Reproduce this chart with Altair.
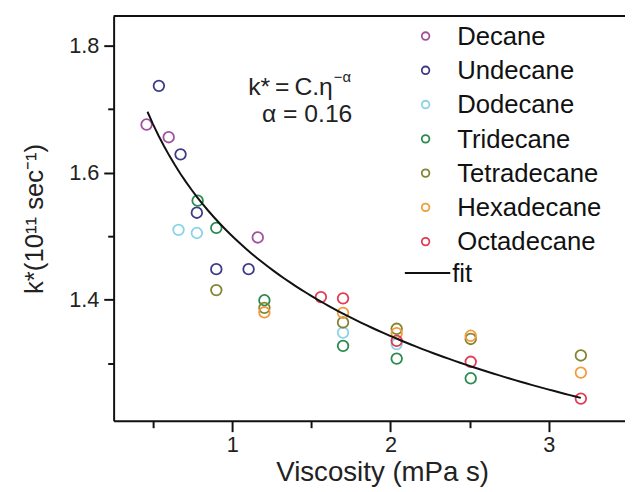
import altair as alt
import numpy as np
import pandas as pd

FONT = "Liberation Sans"

SERIES = ["Decane", "Undecane", "Dodecane", "Tridecane", "Tetradecane", "Hexadecane", "Octadecane"]
COLORS = ["#a0519e", "#3c3a86", "#8ad3e6", "#2a8a50", "#838330", "#f39a3a", "#e23a52"]

decane_x = [0.458, 0.598, 1.161]
decane_y = [1.676, 1.656, 1.498]
undecane_x = [0.536, 0.673, 0.776, 0.899, 1.103]
undecane_y = [1.737, 1.629, 1.537, 1.448, 1.448]
dodecane_x = [0.660, 0.776, 1.700, 2.039]
dodecane_y = [1.510, 1.505, 1.348, 1.330]
tridecane_x = [0.781, 0.899, 1.203, 1.700, 2.039, 2.507]
tridecane_y = [1.556, 1.513, 1.399, 1.327, 1.307, 1.276]
tetradecane_x = [0.899, 1.203, 1.700, 2.039, 2.507, 3.203]
tetradecane_y = [1.415, 1.387, 1.364, 1.354, 1.338, 1.312]
hexadecane_x = [1.203, 1.700, 2.039, 2.507, 3.203]
hexadecane_y = [1.380, 1.379, 1.347, 1.343, 1.285]
octadecane_x = [1.560, 1.700, 2.039, 2.507, 3.203]
octadecane_y = [1.404, 1.402, 1.335, 1.302, 1.244]

# fit: k* = C * eta^(-alpha)
FIT_C = 1.50
FIT_ALPHA = 0.16
FIT_X_RANGE = [0.464, 3.203]

X_TICKS = [0.5, 1, 1.5, 2, 2.5, 3]
Y_TICKS = [1.3, 1.4, 1.5, 1.6, 1.7, 1.8]

rows = []
for name, xs, ys in [
    ("Decane", decane_x, decane_y),
    ("Undecane", undecane_x, undecane_y),
    ("Dodecane", dodecane_x, dodecane_y),
    ("Tridecane", tridecane_x, tridecane_y),
    ("Tetradecane", tetradecane_x, tetradecane_y),
    ("Hexadecane", hexadecane_x, hexadecane_y),
    ("Octadecane", octadecane_x, octadecane_y),
]:
    for x, y in zip(xs, ys):
        rows.append({"series": name, "eta": x, "k": y})
pts = pd.DataFrame(rows)

fx = np.linspace(FIT_X_RANGE[0], FIT_X_RANGE[1], 80)
fit = pd.DataFrame({"eta": fx, "k": FIT_C * fx ** (-FIT_ALPHA)})

legend_df = pd.DataFrame({"series": SERIES, "idx": list(range(len(SERIES)))})

W, H = 518, 410
XDOM = [0.25, 3.482]
YDOM = [1.209, 1.847]

color = alt.Color("series:N", scale=alt.Scale(domain=SERIES, range=COLORS), legend=None)

xaxis = alt.Axis(
    values=X_TICKS,
    labelExpr="datum.value % 1 == 0 ? format(datum.value, 'd') : ''",
    tickSize={"condition": {"test": "datum.value % 1 == 0", "value": 11}, "value": 7},
    tickWidth=2, tickColor="#111", domainColor="#111", domainWidth=2,
    labelFont=FONT, labelFontSize=22, labelColor="#222", labelPadding=3,
    title="Viscosity (mPa s)", titleFont=FONT, titleFontSize=28, titleFontWeight="normal",
    titleColor="#222", titleX=272, titleY=60, titleBaseline="alphabetic", titleAlign="center",
    grid=False,
)
yaxis = alt.Axis(
    values=Y_TICKS,
    labelExpr="round(datum.value * 10) % 2 == 0 ? format(datum.value, '.1f') : ''",
    tickSize={"condition": {"test": "round(datum.value * 10) % 2 == 0", "value": 10}, "value": 6},
    tickWidth=2, tickColor="#111", domainColor="#111", domainWidth=2,
    labelFont=FONT, labelFontSize=22, labelColor="#222", labelPadding=5,
    title="k*(10¹¹ sec⁻¹)", titleFont=FONT, titleFontSize=26, titleFontWeight="normal",
    titleColor="#222", titleAngle=270, titleX=-72, titleY=205, titleBaseline="alphabetic",
    titleAlign="center", grid=False,
)

points = alt.Chart(pts).mark_point(shape="circle", filled=False, size=115, strokeWidth=1.8, opacity=1).encode(
    x=alt.X("eta:Q", scale=alt.Scale(domain=XDOM, nice=False, zero=False), axis=xaxis),
    y=alt.Y("k:Q", scale=alt.Scale(domain=YDOM, nice=False, zero=False), axis=yaxis),
    color=color,
)

fit_line = alt.Chart(fit).mark_line(color="#111", strokeWidth=2).encode(
    x="eta:Q", y="k:Q"
)

one = pd.DataFrame({"a": [0]})

top_rule = alt.Chart(one).mark_rule(color="#111", strokeWidth=2).encode(
    x=alt.value(0), x2=alt.value(W), y=alt.value(0)
)

ann1 = alt.Chart(one).mark_text(align="right", baseline="alphabetic", text="k*\u2009=\u2009C.η",
                                font=FONT, fontSize=25, color="#222").encode(
    x=alt.value(222), y=alt.value(80)
)
ann1s = alt.Chart(one).mark_text(align="left", baseline="alphabetic", text="−α",
                                 font=FONT, fontSize=15, color="#222").encode(
    x=alt.value(223), y=alt.value(67)
)
ann2 = alt.Chart(one).mark_text(align="center", baseline="alphabetic", text="α = 0.16",
                                font=FONT, fontSize=25, color="#222").encode(
    x=alt.value(196), y=alt.value(107)
)

leg_base = alt.Chart(legend_df).transform_calculate(ly="20.3 + 34.7 * datum.idx")
leg_pts = leg_base.mark_point(shape="circle", filled=False, size=60, strokeWidth=1.8, opacity=1).encode(
    x=alt.value(316), y=alt.Y("ly:Q", scale=None), color=color
)
leg_txt = leg_base.mark_text(align="left", baseline="alphabetic", dy=9, font=FONT, fontSize=26, color="#111").encode(
    x=alt.value(348), y=alt.Y("ly:Q", scale=None), text="series:N"
)
leg_fit = alt.Chart(one).mark_rule(color="#111", strokeWidth=2).encode(
    x=alt.value(295), x2=alt.value(341), y=alt.value(260.3)
)
leg_fit_txt = alt.Chart(one).mark_text(align="left", baseline="alphabetic", dy=9, text="fit",
                                       font=FONT, fontSize=26, color="#111").encode(
    x=alt.value(343), y=alt.value(260.3)
)

chart = alt.layer(
    points, fit_line, top_rule, ann1, ann1s, ann2, leg_pts, leg_txt, leg_fit, leg_fit_txt
).properties(
    width=W, height=H,
    padding={"left": 107, "top": 5, "right": 0, "bottom": 69},
    autosize=alt.AutoSizeParams(type="none"),
).configure_view(stroke=None).configure(background="white")

chart.save("out.html", embed_options={"renderer": "svg", "actions": False})
